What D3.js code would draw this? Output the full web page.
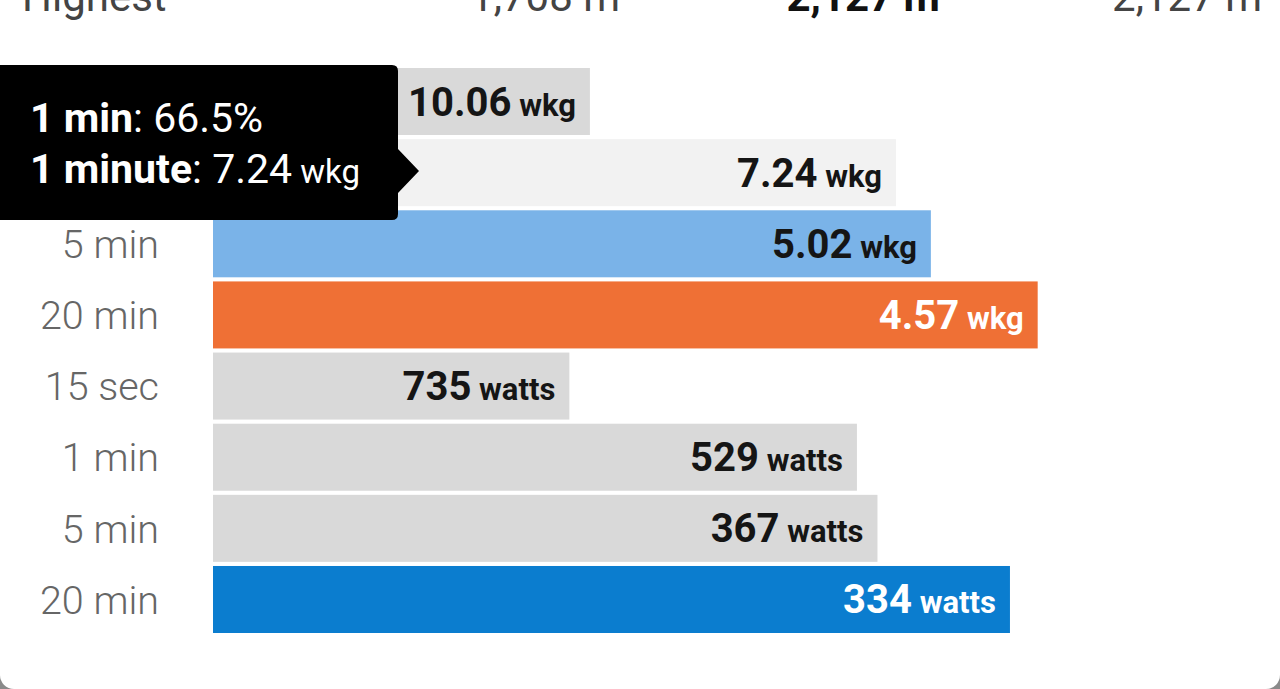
<!DOCTYPE html>
<html>
<head>
<meta charset="utf-8">
<script src="https://cdn.jsdelivr.net/npm/d3@7"></script>
<style>
  html, body { margin: 0; padding: 0; background: #8a8a8a; overflow: hidden; }
  svg { display: block; font-family: Roboto, "Noto Sans", sans-serif; }
</style>
</head>
<body>
<svg id="chart" width="1280" height="689"></svg>
<script>
// ---- data ----
const categories = ["15 sec", "1 min", "5 min", "20 min", "15 sec", "1 min", "5 min", "20 min"];
const displayValues = ["10.06", "7.24", "5.02", "4.57", "735", "529", "367", "334"];
const units = ["wkg", "wkg", "wkg", "wkg", "watts", "watts", "watts", "watts"];
const percents = [36.7, 66.5, 69.9, 80.3, 34.7, 62.7, 64.7, 77.6];
const headerLabels = ["Highest", "1,708 m", "2,127 m", "2,127 m"];
const tooltipLines = [["1 min", ": 66.5%", ""], ["1 minute", ": 7.24", " wkg"]];

// ---- styles ----
const barColors = ["#d9d9d9", "#f2f2f2", "#7ab3e8", "#ef7035", "#d9d9d9", "#d9d9d9", "#d9d9d9", "#0b7dcf"];
const labelColors = ["#151515", "#151515", "#151515", "#ffffff", "#151515", "#151515", "#151515", "#ffffff"];

const W = 1280, H = 689;
const svg = d3.select("#chart");

// card
svg.append("rect").attr("x", 0).attr("y", -30).attr("width", W).attr("height", H + 30)
  .attr("rx", 14).attr("fill", "#ffffff");

// header row (cut off at top)
const headerX = [22, 620, 940, 1262];
const headerAnchor = ["start", "end", "end", "end"];
const headerWeight = [400, 400, 700, 400];
const headerFill = ["#444", "#444", "#111", "#444"];
svg.append("g").selectAll("text").data(headerLabels).join("text")
  .attr("x", (d, i) => headerX[i]).attr("y", 11)
  .attr("text-anchor", (d, i) => headerAnchor[i])
  .attr("font-size", 42).attr("font-weight", (d, i) => headerWeight[i])
  .attr("fill", (d, i) => headerFill[i])
  .text(d => d);

const idx = d3.range(categories.length);
const y = d3.scaleBand().domain(idx).range([68, 633]).paddingInner(0.058).paddingOuter(0);
const x = d3.scaleLinear().domain([0, 100]).range([213, 1240]);

// category axis labels
const yAxis = d3.axisLeft(y).tickSize(0).tickPadding(0).tickFormat(i => categories[i]);
const ax = svg.append("g").attr("transform", "translate(159,0)").call(yAxis);
ax.select(".domain").remove();
ax.selectAll("text").attr("font-size", 39.5).attr("fill", "#666")
  .attr("font-family", "Roboto, sans-serif").attr("font-weight", 300).attr("dy", "0.36em");

// bars
svg.append("g").selectAll("rect").data(idx).join("rect")
  .attr("x", x(0)).attr("y", i => y(i))
  .attr("width", i => x(percents[i]) - x(0)).attr("height", y.bandwidth())
  .attr("fill", i => barColors[i]);

// value labels
const lbl = svg.append("g").selectAll("text").data(idx).join("text")
  .attr("x", i => x(percents[i]) - 14)
  .attr("y", i => y(i) + y.bandwidth() / 2 + 14)
  .attr("text-anchor", "end")
  .attr("font-weight", 700)
  .attr("fill", i => labelColors[i]);
lbl.append("tspan").attr("font-size", 40).text(i => displayValues[i]);
lbl.append("tspan").attr("font-size", 31).text(i => " " + units[i]);

// tooltip
const tip = svg.append("g");
const tx0 = -10, tx1 = 398, ty0 = 65, ty1 = 220, r = 6, ay = 171, ah = 22, ax2 = 419;
const p = d3.path();
p.moveTo(tx0, ty0);
p.lineTo(tx1 - r, ty0);
p.quadraticCurveTo(tx1, ty0, tx1, ty0 + r);
p.lineTo(tx1, ay - ah);
p.lineTo(ax2, ay);
p.lineTo(tx1, ay + ah);
p.lineTo(tx1, ty1 - r);
p.quadraticCurveTo(tx1, ty1, tx1 - r, ty1);
p.lineTo(tx0, ty1);
p.closePath();
tip.append("path").attr("d", p.toString()).attr("fill", "#000");
const tipY = [132, 183];
const tt = tip.selectAll("text").data(tooltipLines).join("text")
  .attr("x", 30).attr("y", (d, i) => tipY[i]).attr("fill", "#fff").attr("font-size", 41);
tt.append("tspan").attr("font-weight", 700).text(d => d[0]);
tt.append("tspan").attr("font-weight", 400).text(d => d[1]);
tt.append("tspan").attr("font-weight", 400).attr("font-size", 33).text(d => d[2]);
</script>
</body>
</html>
